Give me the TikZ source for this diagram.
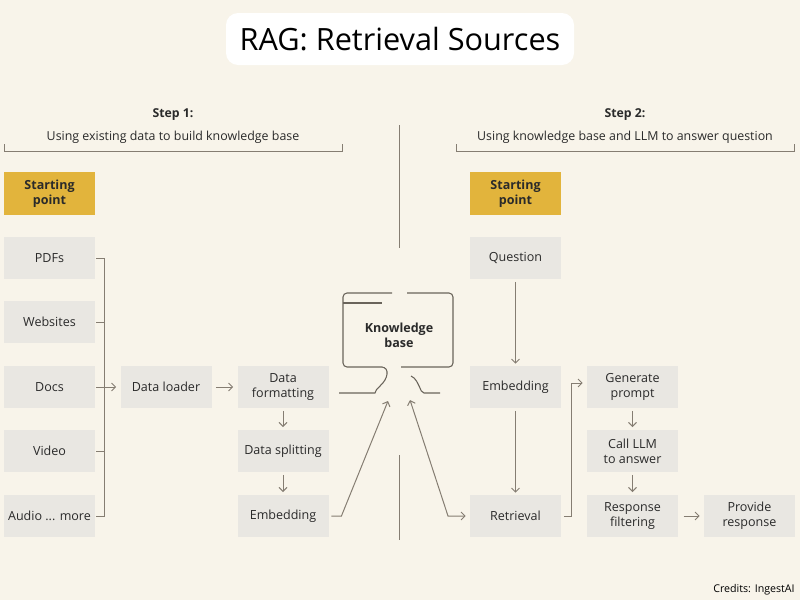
\documentclass[tikz,border=0pt]{standalone}
\usepackage{fontspec}
\setmainfont{Open Sans}
\usetikzlibrary{arrows.meta}
\definecolor{bg}{HTML}{F8F4EA}
\definecolor{boxgray}{HTML}{E9E7E2}
\definecolor{gold}{HTML}{E2B43C}
\definecolor{linec}{HTML}{857D72}
\definecolor{txt}{HTML}{2A2A2A}
\begin{document}
\begin{tikzpicture}[x=0.75pt,y=-0.75pt,
 box/.style={fill=boxgray, minimum width=68.25pt, minimum height=31.5pt, inner sep=1pt, align=center, font=\fontsize{9.4}{11}\selectfont, text=txt},
 startbox/.style={box, fill=gold, minimum height=32.25pt, font=\fontsize{9.4}{11}\selectfont\bfseries},
 conn/.style={draw=linec, line width=0.75pt},
 arr/.style={conn, -{Straight Barb[length=3pt,width=6pt]}},
 darr/.style={conn, {Straight Barb[length=3pt,width=6pt]}-{Straight Barb[length=3pt,width=6pt]}},
 steptitle/.style={font=\fontsize{9.2}{11}\selectfont\bfseries, text=txt},
 stepsub/.style={font=\fontsize{9.3}{11}\selectfont, text=txt},
 kb/.style={draw=linec!80!black, line width=0.8pt},
]
\fill[bg] (0,0) rectangle (800,600);
\useasboundingbox (0,0) rectangle (800,600);

% title
\node[fill=white, rounded corners=9pt, minimum width=261pt, minimum height=39pt, font=\fontsize{23}{27}\selectfont, text=black] (title) at (400,39) {RAG: Retrieval Sources};

% step headings
\node[steptitle] (s1) at (173,114.5) {Step 1:};
\node[stepsub] (s1t) at (173,137) {Using existing data to build knowledge base};
\node[steptitle] (s2) at (625,114.5) {Step 2:};
\node[stepsub] (s2t) at (625,137) {Using knowledge base and LLM to answer question};
\draw[conn] (4,144) -- (4,151) -- (342,151) -- (342,144);
\draw[conn] (456,144) -- (456,151) -- (794,151) -- (794,144);

% divider
\draw[conn] (399,125) -- (399,248);
\draw[conn] (399,455) -- (399,540);

% left column
\node[startbox] (st1) at (49.5,193.5) {Starting\\point};
\node[box] (pdf) at (49.5,258) {PDFs};
\node[box] (web) at (49.5,322) {Websites};
\node[box] (docs) at (49.5,387) {Docs};
\node[box] (video) at (49.5,451) {Video};
\node[box] (audio) at (49.5,516) {Audio ... more};
\node[box] (loader) at (166,387) {Data loader};
\node[box] (fmt) at (283,387) {Data\\formatting};
\node[box] (split) at (283,451) {Data splitting};
\node[box] (embL) at (283,516) {Embedding};

\coordinate (busx) at (104,0);
\draw[conn] ([xshift=0.75pt]pdf.east) -- (pdf.east -| busx) -- (audio.east -| busx) -- ([xshift=0.75pt]audio.east);
\draw[conn] ([xshift=0.75pt]web.east) -- (web.east -| busx);
\draw[conn] ([xshift=0.75pt]video.east) -- (video.east -| busx);
\draw[arr] ([xshift=0.75pt]docs.east) -- ([xshift=-3pt]loader.west);
\draw[arr] ([xshift=3pt]loader.east) -- ([xshift=-3pt]fmt.west);
\draw[arr] ([yshift=-2pt]fmt.south) -- ([yshift=2pt]split.north);
\draw[arr] ([yshift=-2pt]split.south) -- ([yshift=2pt]embL.north);

% knowledge base shape
\node[font=\fontsize{9.4}{11}\selectfont\bfseries, align=center, text=txt] (kbtext) at (399,335) {Knowledge\\base};
\draw[kb, rounded corners=3pt] (392,293) -- (343,293) -- (343,367) -- (382,367);
\draw[kb] (382,367) .. controls (390,368) and (388,379) .. (380,386) .. controls (376,390) .. (375,393) -- (339,393);
\draw[kb] (343,303) -- (382,303);
\draw[kb, rounded corners=3pt] (407,293) -- (453,293) -- (453,367) -- (401,367);
\draw[kb] (411,376) .. controls (416,378) and (418,384) .. (420,388) .. controls (421,391) .. (424,393) -- (440,393);
\coordinate (kbin1) at (388,401);
\coordinate (kbin2) at (410,400);

% right column
\node[startbox] (st2) at (515.5,193.5) {Starting\\point};
\node[box] (q) at (515.5,258) {Question};
\node[box] (embR) at (515.5,387) {Embedding};
\node[box] (retr) at (515.5,516) {Retrieval};
\node[box] (gen) at (632.5,387) {Generate\\prompt};
\node[box] (llm) at (632.5,451) {Call LLM\\to answer};
\node[box] (filt) at (632.5,516) {Response\\filtering};
\node[box] (prov) at (749.5,516) {Provide\\response};

\draw[arr] ([yshift=-2pt]q.south) -- ([yshift=1.5pt]embR.north);
\draw[arr] ([yshift=-2pt]embR.south) -- ([yshift=1.5pt]retr.north);
\draw[arr] ([xshift=2pt]retr.east) -- ++(8,0) |- ([xshift=-3pt,yshift=3pt]gen.west);
\draw[arr] ([yshift=-2pt]gen.south) -- ([yshift=2pt]llm.north);
\draw[arr] ([yshift=-2pt]llm.south) -- ([yshift=2pt]filt.north);
\draw[arr] ([xshift=4pt]filt.east) -- ([xshift=-3pt]prov.west);

% to knowledge base
\draw[arr] ([xshift=2pt]embL.east) -- ++(10,0) -- (kbin1);
\draw[darr] (kbin2) -- (448,516) -- ([xshift=-3pt]retr.west);

% credits
\node[font=\fontsize{8}{9.5}\selectfont, text=black] (cred) at (754,590) {Credits: IngestAI};
\end{tikzpicture}
\end{document}
